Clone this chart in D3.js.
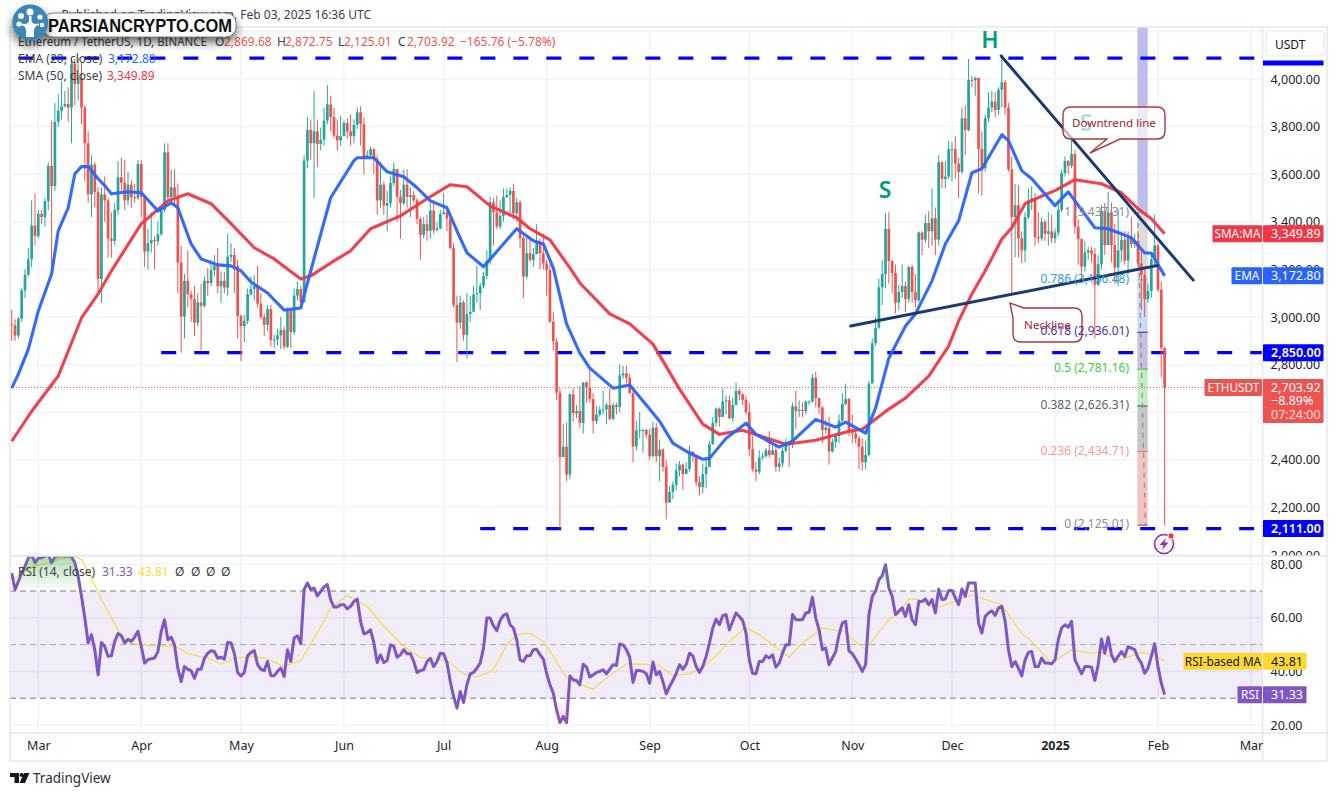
<!DOCTYPE html>
<html>
  <head>
    <meta http-equiv="Content-Type" content="text/html;charset=utf-8">
    <title>ETHUSDT 1D</title>
    <script type="text/javascript" src="https://cdn.jsdelivr.net/npm/d3@7"></script>
    <style type="text/css">
html, body { margin: 0; padding: 0; background: #fff; overflow: hidden; }
svg { display: block; }
text { font-family: "Noto Sans", "DejaVu Sans", sans-serif; font-size: 12px; fill: #131722; }
.grid { stroke: #f0f3fa; stroke-width: 1.5; }
.frame { stroke: #e4e7ee; stroke-width: 1.5; fill: none; }
.axis text { font-size: 12.5px; fill: #1e222d; }
.lvl { stroke: #0000ff; stroke-width: 3.3; stroke-dasharray: 15 18; }
.trend { stroke: #1d3a70; stroke-width: 3; stroke-linecap: round; }
.box text { fill: #fff; font-size: 12.5px; }
    </style>
  </head>
  <body>
    <div id="chart"></div>
    <script type="text/javascript">
// daily candles, Feb 22 2024 .. Feb 3 2025. open of a day = close of the day before
var firstOpen = 2970;
var closes = [
  2965,2922,2993,3112,3178,3242,3384,3340, // feb
  3433,3420,3487,3635,3550,3820,3866,3885,3895,3880,4065,3980,4005,3880,3730,3515,3640,3525,3160,3515,3490,3330,3320,3450,3587,3565,3490,3556,3503,3500,3643,
  3505,3275,3310,3323,3318,3348,3450,3692,3503,3545,3505,3229,3002,3152,3096,3077,2976,3061,3047,3152,3142,3197,3215,3130,3152,3124,3253,3261,3215,3005,
  2962,2984,3096,3117,3130,3056,3000,2967,3033,2903,2905,2923,2946,2875,3030,2937,3090,3117,3063,3657,3786,3730,3780,3727,3745,3825,3893,3840,3762,3742,3760,
  3815,3780,3760,3808,3860,3811,3671,3680,3705,3665,3490,3556,3468,3478,3563,3622,3505,3478,3556,3505,3512,3490,3412,3345,3390,3362,3447,3365,3372,3432,
  3440,3414,3290,3051,2976,3061,2925,3012,3022,3095,3100,3130,3173,3236,3482,3440,3380,3425,3503,3513,3530,3435,3482,3332,3170,3268,3240,3264,3316,3268,3225,
  3197,2980,2897,2682,2412,2455,2338,2675,2595,2605,2555,2725,2703,2655,2563,2590,2610,2612,2630,2572,2630,2622,2755,2763,2745,2680,2456,2523,2525,2525,2505,
  2415,2535,2415,2443,2370,2220,2265,2295,2355,2380,2340,2362,2435,2417,2306,2285,2340,2370,2465,2555,2615,2580,2645,2650,2575,2630,2690,2675,2652,2600,
  2445,2360,2350,2410,2415,2440,2420,2440,2370,2385,2438,2475,2465,2625,2605,2610,2605,2645,2645,2745,2660,2620,2525,2535,2435,2475,2500,2565,2635,2655,2515,
  2510,2490,2455,2390,2420,2720,2890,2955,3125,3180,3370,3235,3185,3060,3105,3130,3075,3210,3105,3070,3355,3325,3395,3360,3415,3325,3650,3580,3590,3705,
  3705,3645,3610,3835,3785,3996,3995,4005,3706,3625,3835,3880,3905,3870,3955,3986,3880,3620,3420,3470,3330,3280,3420,3490,3500,3335,3330,3400,3350,3360,3330,
  3355,3450,3605,3655,3635,3685,3379,3327,3212,3271,3280,3265,3135,3222,3446,3302,3440,3302,3208,3280,3325,3237,3333,3306,3320,3225,3177,3075,3110,3243,3300,
  3115,2870,2703.92
];
var highs = [
  3030,2990,3000,3120,3200,3290,3490,3520,
  3450,3450,3500,3650,3825,3900,3935,3990,3950,3965,4090,4085,4090,4070,3890,3780,3680,3650,3545,3545,3590,3500,3440,3480,3655,3670,3660,3610,3575,3560,3660,
  3660,3510,3370,3440,3340,3400,3460,3730,3730,3620,3620,3560,3299,3180,3280,3110,3130,3100,3140,3170,3205,3240,3260,3290,3190,3190,3350,3310,3290,3240,
  3010,3010,3120,3170,3175,3215,3100,3015,3050,3050,2925,2950,3000,2960,3040,3030,3120,3150,3130,3680,3840,3830,3950,3830,3795,3880,3975,3930,3880,3830,3845,
  3825,3835,3850,3830,3880,3885,3840,3700,3715,3710,3680,3650,3570,3530,3590,3650,3620,3535,3620,3620,3545,3530,3500,3420,3420,3430,3480,3490,3400,3450,
  3520,3465,3400,3310,3090,3090,3070,3100,3090,3130,3215,3145,3190,3280,3505,3500,3510,3490,3540,3540,3545,3560,3500,3490,3340,3335,3330,3290,3390,3330,3350,
  3240,3220,3020,2910,2700,2550,2555,2680,2700,2630,2710,2725,2730,2780,2680,2625,2625,2690,2640,2700,2640,2640,2800,2795,2795,2760,2705,2565,2600,2530,2530,
  2530,2560,2555,2485,2450,2400,2290,2310,2385,2395,2385,2390,2460,2430,2420,2330,2385,2410,2480,2580,2620,2620,2700,2670,2670,2660,2725,2700,2680,2670,
  2640,2500,2390,2440,2430,2450,2520,2460,2460,2410,2450,2490,2480,2640,2690,2650,2640,2650,2650,2760,2770,2650,2625,2570,2580,2490,2510,2590,2680,2720,2660,
  2590,2520,2500,2490,2480,2730,2910,3000,3160,3240,3436,3440,3240,3220,3135,3220,3150,3215,3220,3180,3360,3360,3430,3445,3540,3460,3680,3655,3655,3740,
  3735,3760,3670,3880,3890,4085,4015,4010,4005,3780,3850,3945,3950,3945,3965,4100,3995,3900,3675,3560,3555,3360,3440,3540,3550,3520,3440,3420,3410,3440,3430,
  3370,3490,3620,3675,3660,3745,3700,3410,3330,3320,3295,3295,3290,3260,3470,3480,3525,3480,3390,3455,3360,3360,3360,3420,3350,3360,3280,3200,3140,3260,3430,
  3310,3150,2872.75
];
var lows = [
  2900,2900,2910,2980,3080,3170,3210,3300,
  3330,3390,3380,3450,3200,3530,3800,3830,3880,3820,3730,3890,3910,3810,3570,3480,3420,3460,3100,3060,3400,3250,3250,3300,3430,3530,3450,3470,3460,3480,3490,
  3420,3210,3200,3270,3200,3300,3340,3440,3480,3480,3470,3100,2850,2910,3040,2980,2920,2960,2860,3040,3090,3130,3170,3100,3060,3100,3090,3230,3100,2910,
  2815,2895,2970,3090,3070,3040,2990,2920,2940,2875,2870,2880,2865,2865,2870,2870,2925,3070,3040,3060,3625,3660,3500,3630,3700,3720,3810,3780,3750,3700,3720,
  3780,3750,3720,3730,3790,3720,3600,3670,3670,3600,3430,3460,3430,3360,3460,3550,3400,3330,3470,3460,3420,3480,3390,3240,3330,3320,3330,3350,3360,3370,
  3430,3360,3285,3040,2810,2950,2900,2825,2980,3030,3060,3030,3120,3160,3220,3300,3370,3370,3400,3500,3420,3410,3400,3290,3080,3160,3230,3210,3270,3200,3200,
  3090,2975,2860,2650,2111,2410,2310,2320,2560,2575,2535,2510,2640,2640,2510,2550,2580,2590,2550,2565,2565,2590,2600,2740,2720,2680,2390,2440,2490,2430,2490,
  2400,2410,2390,2310,2350,2150,2220,2235,2270,2330,2275,2345,2350,2390,2290,2250,2260,2280,2370,2465,2540,2540,2580,2590,2570,2560,2630,2650,2630,2590,
  2415,2350,2310,2340,2400,2410,2410,2420,2350,2350,2370,2430,2370,2450,2530,2580,2580,2590,2630,2640,2620,2590,2470,2510,2380,2430,2450,2470,2560,2630,2500,
  2470,2470,2360,2355,2360,2415,2800,2880,2950,3050,3120,3140,3100,3015,3030,3080,3020,3060,3060,3040,3060,3260,3310,3290,3300,3260,3300,3540,3540,3580,
  3570,3580,3500,3600,3680,3780,3965,3930,3520,3510,3610,3820,3860,3840,3850,3880,3850,3610,3100,3250,3250,3225,3230,3410,3450,3300,3310,3320,3320,3300,3310,
  3310,3340,3440,3590,3600,3625,3350,3220,3160,3190,3240,3230,2910,3130,3200,3260,3310,3230,3140,3130,3230,3220,3180,3290,3290,3210,3030,3000,3060,3080,3210,
  3105,2747,2125.01
];

// moving averages, sampled: days since Mar 1 2024 and value
var emaDays = [-8,-6,-3,0,4,6,9,11,13,15,18,20,22,27,31,36,40,42,46,49,54,58,61,64,69,74,79,82,88,95,96,101,105,110,114,118,123,126,129,134,139,144,149,152,155,159,163,166,173,178,184,187,191,195,200,202,207,213,216,223,227,234,240,243,249,252,256,261,264,269,273,277,281,284,290,292,296,299,306,310,318,322,329,333,335,339];
var emaValues = [2701,2760,2865,3025,3181,3362,3459,3602,3632,3632,3581,3552,3518,3526,3522,3446,3480,3459,3307,3244,3219,3215,3194,3147,3101,3029,3038,3194,3501,3657,3669,3669,3610,3589,3543,3488,3459,3362,3270,3211,3291,3371,3320,3307,3206,2971,2848,2785,2701,2714,2613,2562,2470,2436,2402,2406,2490,2554,2507,2453,2478,2570,2537,2558,2512,2617,2827,2962,3013,3152,3307,3404,3606,3623,3766,3741,3615,3581,3468,3526,3375,3371,3333,3269,3269,3172.8];
var smaDays = [-8,-2,6,13,18,22,31,39,45,52,58,65,71,77,79,82,89,94,100,109,117,124,129,136,144,148,154,160,163,172,178,185,193,200,205,212,225,234,244,248,256,261,268,274,277,281,285,290,293,297,303,306,312,320,326,331,335,339];
var smaValues = [2478,2604,2752,2996,3097,3194,3392,3488,3518,3476,3392,3291,3244,3181,3160,3173,3236,3278,3371,3425,3497,3556,3547,3467,3417,3371,3324,3206,3143,3013,2971,2886,2697,2550,2507,2524,2465,2482,2520,2528,2613,2659,2752,2878,2983,3097,3194,3328,3375,3476,3514,3531,3577,3560,3522,3455,3413,3349.89];

// rsi per day, same days as the candles
var rsiValues = [
  76.7,70.5,73.6,76.7,79.2,82.3,83.6,80.5,
  82.3,82.3,83,83.6,80.5,82.7,83,83.2,83,83.2,82.7,80.5,75.5,68,59.9,50.6,53.7,48.1,38.7,50.8,49.3,45.6,45.8,51.2,54.1,53.3,50.6,52,51.2,52.8,55,
  49.3,43.1,44.4,44.7,45,47.4,54.9,59.3,51.8,52.8,49.9,41.2,36.2,41.8,40.8,40.3,37.5,40.8,40.8,44.9,46.8,47.7,47.4,44.9,45.3,44.6,50.8,50.6,46.8,39.6,
  38.3,39.6,45.8,47.1,47.8,42.5,40.8,40.3,43.7,38.4,38.4,40,41.2,38.1,48.1,43.7,52.5,53.3,50.3,70.5,73,70.5,71.1,68.2,69.9,71.5,72.4,66.7,64,64,64.9,
  64.9,63.3,64.3,66.1,67,58.7,54,54.5,55.5,50.6,43.3,46.2,43.3,44.1,49.9,49.3,45.3,46.2,48.1,46.6,46.6,43.7,39.6,40.3,40.6,43.7,44.9,41.8,43.7,46.8,
  46.6,43.3,36.2,30.6,26.3,32.5,28.4,35,39.1,39.6,41.2,43.1,48.7,59.9,59.9,57,55.2,59,60.9,61.5,57.4,56.2,51.8,44.3,43.7,45.8,45.8,48.1,48.3,46.2,44.6,
  39.3,35,31.9,25.6,20.9,23.2,20.9,38.3,36.9,36.6,35,42.7,41.6,37.9,38.7,39.6,40,40.6,39.1,40.8,42.5,42.2,50.2,49.9,48.1,45.3,35.9,40.3,40.3,40,39.1,
  35.6,43.5,38.7,40,36.2,31.6,34.4,36.6,39.3,42.5,40.8,42.5,46.8,45.8,41.8,39.6,41.8,45.6,50.6,56.2,59.5,57.4,60.8,61.2,55.5,58.7,61.8,60.5,59,54.3,
  44.3,39.3,39.1,43.7,43.7,45.8,45,46.2,41.6,43.1,46.8,49.9,49.9,61.2,59.3,59.3,59.3,61.8,62.1,67.7,59.9,55.5,48.1,48.7,42.5,45,47.4,53.7,58,58.7,47.7,
  46.6,44.6,42.5,40,42.5,61.1,68,69.9,74.2,75.7,79.8,71.1,68,61.2,62.4,63.7,60.5,64.9,59.3,57.4,66.1,66.1,67,64.9,66.8,61.8,70.7,66.8,67,70.2,
  70.2,67.4,64.9,70.7,68,73,73,73,58,54.3,60.5,61.8,62.6,60.9,63.7,64.3,58.7,48.1,41.8,43.7,41.2,38.3,44.3,47.1,47.4,41.8,41.8,45,43.1,43.1,42.8,
  44.3,51.8,56.2,57.4,56.5,58.7,44.3,41.8,39.1,41.8,41.8,41.6,36.6,42.5,52.1,46.8,52.8,46.2,43.7,45.6,47.4,45.6,49.3,48.7,48.1,45,43.1,39.3,41.2,45.6,50.3,
  41.8,35.6,31.33
];
var rsiMaDays = [-8,-2,3,6,11,13,16,19,24,27,32,35,41,45,51,55,59,65,69,74,79,84,88,93,99,104,110,115,123,128,132,135,137,141,144,148,152,155,159,162,167,171,177,182,187,191,196,201,204,209,213,217,226,230,236,243,244,249,254,256,259,262,265,270,276,281,285,290,296,298,305,311,317,320,325,332,336,339];
var rsiMaValues = [74.2,79.2,80.5,81.7,83,81.7,74.9,66.8,55.5,50.6,49.9,49.3,49.6,46.6,45,42.7,45,45.6,44.6,41.8,44.1,54.3,63.6,68.4,64.3,56.8,49.3,45.3,44.1,39.1,37.9,39.4,40.8,49.9,53.7,54.3,51.2,45.6,37.5,35.6,33.4,37.5,42.7,42.7,42.2,38.4,39.1,42.5,45.8,52.4,56.2,53.7,45.3,50.6,56.2,54.7,53.1,48.1,56.2,59.3,61.8,67.1,66.8,63.6,66.1,68.6,66.8,64.9,54,52.4,43.1,48.1,46.8,47.1,44.1,47.1,46,43.81];

// axes
var priceTicks = [4000,3800,3600,3400,3200,3000,2800,2600,2400,2200,2000];
var rsiTicks = [80,60,40,20];
var monthDays = [0,31,61,92,122,153,184,214,245,275,306,337,365];
var monthLabels = ["Mar","Apr","May","Jun","Jul","Aug","Sep","Oct","Nov","Dec","2025","Feb","Mar"];

// drawings
var levelPrices = [4088,2850,2111];
var levelStarts = [-6,37,133];
var fibRatios = ["1","0.786","0.618","0.5","0.382","0.236","0"];
var fibPrices = [3437.31,3156.48,2936.01,2781.16,2626.31,2434.71,2125.01];
var fibLabelColors = ["#8a8d96","#2f9bd9","#512da8","#3fcf3f","#5d606b","#ef9a9a","#8a8d96"];
var fibLineColors = ["#8a8d96","#64b5f6","#4a148c","#4caf50","#434651","#e57373","#5d606b"];
var fibFills = ["#dcdcdc","#c7ddf4","#c9bfe0","#c3ecc3","#c6c6c6","#f3c3c3"];
var downtrendDays = [289.8,347.6], downtrendPrices = [4097,3155];
var necklineDays = [244.5,336.8], necklinePrices = [2962,3216];

if (closes.length != 348 || highs.length != 348 || lows.length != 348 || rsiValues.length != 348)
  throw new Error("lengths " + [closes.length, highs.length, lows.length, rsiValues.length]);

var opens = closes.map(function(c, i) { return i ? closes[i-1] : firstOpen; });
var up = "#26a69a", down = "#ef5350", blue = "#2962ff", red = "#f23645", purple = "#7e57c2", yellow = "#fdd835";
var W = 1338, H = 796;
var leftX = 10, axisX = 1262.5, rightX = 1327, topY = 27, paneY = 556, timeY = 733, bottomY = 761;

var svg = d3.select("#chart").append("svg").attr("width", W).attr("height", H);

var x = d3.scaleLinear().domain([0, 365]).range([38.3, 1251]);
var y = d3.scaleLinear().domain([4000, 2000]).range([79, 555]);
var r = d3.scaleLinear().domain([80, 20]).range([564.2, 725]);
function dayOf(i) { return i - 8; }

var defs = svg.append("defs");
function clip(id, y0, y1) {
  defs.append("clipPath").attr("id", id).append("rect")
    .attr("x", leftX).attr("y", y0).attr("width", axisX - leftX).attr("height", y1 - y0);
}
clip("mainClip", topY, paneY);
clip("rsiClip", paneY, timeY);
clip("obClip", paneY, r(70));
clip("osClip", r(30), timeY);
var g1 = defs.append("linearGradient").attr("id", "obGrad").attr("gradientUnits", "userSpaceOnUse")
  .attr("x1", 0).attr("x2", 0).attr("y1", paneY).attr("y2", r(70));
g1.append("stop").attr("offset", "0").attr("stop-color", "#4caf50").attr("stop-opacity", 0.45);
g1.append("stop").attr("offset", "1").attr("stop-color", "#4caf50").attr("stop-opacity", 0);
var g2 = defs.append("linearGradient").attr("id", "osGrad").attr("gradientUnits", "userSpaceOnUse")
  .attr("x1", 0).attr("x2", 0).attr("y1", timeY).attr("y2", r(30));
g2.append("stop").attr("offset", "0").attr("stop-color", "#ff5252").attr("stop-opacity", 0.35);
g2.append("stop").attr("offset", "1").attr("stop-color", "#ff5252").attr("stop-opacity", 0);

// grid
var grid = svg.append("g");
grid.selectAll(".vg").data(monthDays).enter().append("line").attr("class", "grid")
  .attr("x1", function(d) { return x(d); }).attr("x2", function(d) { return x(d); })
  .attr("y1", topY).attr("y2", timeY);
grid.selectAll(".pg").data(priceTicks.concat([4200])).enter().append("line").attr("class", "grid")
  .attr("x1", leftX).attr("x2", axisX)
  .attr("y1", function(d) { return y(d); }).attr("y2", function(d) { return y(d); });
grid.selectAll(".rg").data(rsiTicks).enter().append("line").attr("class", "grid")
  .attr("x1", leftX).attr("x2", axisX)
  .attr("y1", function(d) { return r(d); }).attr("y2", function(d) { return r(d); });

// main pane
var main = svg.append("g").attr("clip-path", "url(#mainClip)");

// fib block sits behind the candles
var fibX0 = x(330.8), fibX1 = x(333.9);
main.append("rect").attr("x", fibX0).attr("width", fibX1 - fibX0).attr("y", topY)
  .attr("height", y(fibPrices[0]) - topY).attr("fill", "#bfbdec");
main.selectAll(".fb").data(fibFills).enter().append("rect")
  .attr("x", fibX0).attr("width", fibX1 - fibX0)
  .attr("y", function(d, i) { return y(fibPrices[i]); })
  .attr("height", function(d, i) { return y(fibPrices[i+1]) - y(fibPrices[i]); })
  .attr("fill", function(d) { return d; });
main.selectAll(".fl").data(fibPrices).enter().append("line")
  .attr("x1", fibX0).attr("x2", fibX1)
  .attr("y1", function(d) { return y(d); }).attr("y2", function(d) { return y(d); })
  .attr("stroke", function(d, i) { return fibLineColors[i]; }).attr("stroke-width", 1);
main.append("line").attr("x1", x(330.9)).attr("x2", x(333.2))
  .attr("y1", y(fibPrices[0])).attr("y2", y(fibPrices[6]))
  .attr("stroke", "#8a8d96").attr("stroke-width", 1.2).attr("stroke-dasharray", "5 5");

// horizontal levels
main.selectAll(".lvl").data(levelPrices).enter().append("line").attr("class", "lvl")
  .attr("x1", function(d, i) { return x(levelStarts[i]); }).attr("x2", axisX)
  .attr("y1", function(d) { return y(d); }).attr("y2", function(d) { return y(d); });

// last price line
main.append("line").attr("x1", leftX).attr("x2", axisX)
  .attr("y1", y(2703.92)).attr("y2", y(2703.92))
  .attr("stroke", down).attr("stroke-width", 1).attr("stroke-dasharray", "1 2");

// candles
var candles = main.selectAll(".c").data(closes).enter().append("g");
candles.append("line")
  .attr("x1", function(d, i) { return x(dayOf(i)); }).attr("x2", function(d, i) { return x(dayOf(i)); })
  .attr("y1", function(d, i) { return y(highs[i]); }).attr("y2", function(d, i) { return y(lows[i]); })
  .attr("stroke", function(d, i) { return d >= opens[i] ? up : down; }).attr("stroke-width", 1);
candles.append("rect")
  .attr("x", function(d, i) { return x(dayOf(i)) - 1.35; }).attr("width", 2.7)
  .attr("y", function(d, i) { return y(Math.max(d, opens[i])); })
  .attr("height", function(d, i) { return Math.max(1, Math.abs(y(d) - y(opens[i]))); })
  .attr("fill", function(d, i) { return d >= opens[i] ? up : down; });

// moving averages
function sampled(days, values, scale) {
  return d3.line()
    .x(function(d, i) { return x(days[i]); })
    .y(function(d) { return scale(d); })(values);
}
main.append("path").attr("d", sampled(smaDays, smaValues, y)).attr("fill", "none").attr("stroke-linejoin", "round")
  .attr("stroke", red).attr("stroke-width", 3.1).attr("stroke-opacity", 0.95);
main.append("path").attr("d", sampled(emaDays, emaValues, y)).attr("fill", "none").attr("stroke-linejoin", "round")
  .attr("stroke", blue).attr("stroke-width", 3.1).attr("stroke-opacity", 0.95);

// trend lines
var tl = d3.line().x(function(d) { return x(d[0]); }).y(function(d) { return y(d[1]); });
main.append("path").attr("class", "trend").attr("d", tl(d3.zip(downtrendDays, downtrendPrices)));
main.append("path").attr("class", "trend").attr("d", tl(d3.zip(necklineDays, necklinePrices)));

// pattern letters
function letter(t, lx, ly) {
  svg.append("text").attr("x", lx).attr("y", ly).attr("text-anchor", "middle")
    .style("font-size", "23px").style("font-weight", 600).style("fill", "#089981").text(t);
}
letter("S", 885, 198);
letter("H", 990, 48);
letter("S", 1086, 131);

// callouts: tail is [apex, start, end, side]
function callout(bx, by, bw, bh, tail, label) {
  var d = "M" + (bx + 10) + "," + by + " H" + (bx + bw - 8) + " Q" + (bx + bw) + "," + by + " " + (bx + bw) + "," + (by + 8)
    + " V" + (by + bh - 8) + " Q" + (bx + bw) + "," + (by + bh) + " " + (bx + bw - 8) + "," + (by + bh);
  if (tail[3] == "b") d += " H" + tail[1] + " L" + tail[0][0] + "," + tail[0][1] + " L" + tail[2] + "," + (by + bh);
  d += " H" + (bx + 8) + " Q" + bx + "," + (by + bh) + " " + bx + "," + (by + bh - 8);
  if (tail[3] == "t") d += " V" + tail[1] + " L" + tail[0][0] + "," + tail[0][1] + " L" + tail[2] + "," + by;
  else d += " V" + (by + 8) + " Q" + bx + "," + by + " " + (bx + 8) + "," + by;
  svg.append("path").attr("fill", "rgba(255,255,255,0.68)").attr("stroke", "#a93a3f").attr("stroke-width", 1.4).attr("d", d + " Z");
  svg.append("text").attr("x", bx + bw / 2).attr("y", by + bh / 2 + 4).attr("text-anchor", "middle")
    .style("fill", "#a51c1c").style("font-size", "11.6px").text(label);
}
callout(1063, 107, 102, 32, [[1090, 153], 1120, 1107, "b"], "Downtrend line");
callout(1013, 308, 69, 34, [[1010, 303], 318, 1024, "t"], "Neckline");

// fib labels
svg.selectAll(".fibl").data(fibPrices).enter().append("text")
  .attr("x", 1129).attr("y", function(d) { return y(d) + 3; }).attr("text-anchor", "end")
  .style("fill", function(d, i) { return fibLabelColors[i]; })
  .text(function(d, i) { return fibRatios[i] + " (" + d3.format(",.2f")(d) + ")"; });

// bolt marker
var bolt = svg.append("g").attr("transform", "translate(1164,544)");
bolt.append("circle").attr("r", 9.5).attr("fill", "#fff").attr("stroke", "#9c27b0").attr("stroke-width", 1.6);
bolt.append("path").attr("d", "M2,-6 L-4.5,1 L-0.5,1 L-2,6 L4.5,-1.5 L0.5,-1.5 Z").attr("fill", "#9c27b0");
bolt.append("circle").attr("cx", 7).attr("cy", -8).attr("r", 3.2).attr("fill", red).attr("stroke", "#fff").attr("stroke-width", 1);

// rsi pane
var rsiPane = svg.append("g").attr("clip-path", "url(#rsiClip)");
rsiPane.append("rect").attr("x", leftX).attr("width", axisX - leftX)
  .attr("y", r(70)).attr("height", r(30) - r(70)).attr("fill", purple).attr("fill-opacity", 0.115);
rsiPane.selectAll(".rl").data([70,50,30]).enter().append("line")
  .attr("x1", leftX).attr("x2", axisX)
  .attr("y1", function(d) { return r(d); }).attr("y2", function(d) { return r(d); })
  .attr("stroke", "#787b86").attr("stroke-opacity", function(d) { return d == 50 ? 0.6 : 1; })
  .attr("stroke-dasharray", "6 4");
var ob = d3.area().x(function(d, i) { return x(dayOf(i)); }).y0(r(70)).y1(function(d) { return r(d); });
var os = d3.area().x(function(d, i) { return x(dayOf(i)); }).y0(r(30)).y1(function(d) { return r(d); });
svg.append("path").attr("d", ob(rsiValues)).attr("fill", "url(#obGrad)").attr("clip-path", "url(#obClip)");
svg.append("path").attr("d", os(rsiValues)).attr("fill", "url(#osGrad)").attr("clip-path", "url(#osClip)");
rsiPane.append("path").attr("d", sampled(rsiMaDays, rsiMaValues, r)).attr("fill", "none")
  .attr("stroke", yellow).attr("stroke-width", 1.1);
rsiPane.append("path").attr("fill", "none").attr("stroke", purple).attr("stroke-width", 3).attr("stroke-linejoin", "round")
  .attr("d", d3.line().x(function(d, i) { return x(dayOf(i)); }).y(function(d) { return r(d); })(rsiValues));

// frame
svg.append("rect").attr("class", "frame").attr("x", leftX).attr("y", topY).attr("width", rightX - leftX).attr("height", bottomY - topY);
svg.append("line").attr("class", "frame").attr("x1", axisX).attr("x2", axisX).attr("y1", topY).attr("y2", bottomY);
svg.append("line").attr("class", "frame").attr("x1", leftX).attr("x2", rightX).attr("y1", paneY).attr("y2", paneY);
svg.append("line").attr("class", "frame").attr("x1", leftX).attr("x2", rightX).attr("y1", timeY).attr("y2", timeY);

// axes
var priceAxis = svg.append("g").attr("class", "axis").attr("transform", "translate(" + axisX + ",0)")
  .call(d3.axisRight(y).tickValues(priceTicks).tickFormat(d3.format(",.2f")).tickSize(0).tickPadding(8));
priceAxis.select(".domain").remove();
var rsiAxis = svg.append("g").attr("class", "axis").attr("transform", "translate(" + axisX + ",0)")
  .call(d3.axisRight(r).tickValues(rsiTicks).tickFormat(d3.format(".2f")).tickSize(0).tickPadding(8));
rsiAxis.select(".domain").remove();
var timeAxis = svg.append("g").attr("class", "axis").attr("transform", "translate(0," + timeY + ")")
  .call(d3.axisBottom(x).tickValues(monthDays).tickFormat(function(d, i) { return monthLabels[i]; }).tickSize(0).tickPadding(8));
timeAxis.select(".domain").remove();
timeAxis.selectAll("text").filter(function(d, i) { return monthLabels[i] == "2025"; }).style("font-weight", 700);

// the 2,000.00 tick runs into the rsi pane, cut it there like the terminal does
svg.append("rect").attr("x", axisX + 1).attr("y", paneY).attr("width", rightX - axisX - 2).attr("height", 4).attr("fill", "#fff");
svg.append("line").attr("class", "frame").attr("x1", axisX).attr("x2", rightX).attr("y1", paneY).attr("y2", paneY);

// price boxes on the scale
var tagWidths = { "SMA:MA": 50, "EMA": 31, "RSI-based MA": 79, "RSI": 25 };
function tag(name, value, cy, color, txt) {
  var h = 17, b = svg.append("g").attr("class", "box");
  if (name) {
    var w = tagWidths[name];
    b.append("rect").attr("x", axisX - w).attr("y", cy - h / 2).attr("width", w - 0.5).attr("height", h).attr("rx", 1).attr("fill", color);
    b.append("text").attr("x", axisX - w / 2).attr("y", cy + 4.5).attr("text-anchor", "middle").style("fill", txt).style("font-size", "11.8px").text(name);
  }
  var vw = value.length > 5 ? 60.5 : 43.5;
  b.append("rect").attr("x", axisX + 0.5).attr("y", cy - h / 2).attr("width", vw).attr("height", h).attr("rx", 1).attr("fill", color);
  b.append("text").attr("x", axisX + 8.5).attr("y", cy + 4.5).style("fill", txt).text(value);
  return b;
}
tag("SMA:MA", "3,349.89", y(3349.89), red, "#fff");
tag("EMA", "3,172.80", y(3172.8), blue, "#fff");
tag(null, "2,850.00", y(2850), "#0000ff", "#fff").selectAll("text").style("font-weight", 600);
tag(null, "2,111.00", y(2111), "#0000ff", "#fff").selectAll("text").style("font-weight", 600);
tag("RSI-based MA", "43.81", r(43.81), yellow, "#131722");
tag("RSI", "31.33", r(31.33), purple, "#fff");

// last price box is three rows high
var lastY = y(2703.92);
var lastBox = svg.append("g").attr("class", "box");
lastBox.append("rect").attr("x", axisX - 58).attr("y", lastY - 8.5).attr("width", 57.5).attr("height", 17).attr("rx", 1).attr("fill", down);
lastBox.append("text").attr("x", axisX - 29).attr("y", lastY + 4.5).attr("text-anchor", "middle").style("font-size", "11.8px").text("ETHUSDT");
lastBox.append("rect").attr("x", axisX + 0.5).attr("y", lastY - 8.5).attr("width", 60.5).attr("height", 44).attr("rx", 1).attr("fill", down);
lastBox.append("text").attr("x", axisX + 8.5).attr("y", lastY + 4.5).text("2,703.92");
lastBox.append("text").attr("x", axisX + 8.5).attr("y", lastY + 18).text("\u22128.89%");
lastBox.append("text").attr("x", axisX + 8.5).attr("y", lastY + 32).style("fill-opacity", 0.8).text("07:24:00");

// usdt button, and the tail of the 4,088 box under it
svg.append("rect").attr("x", axisX + 0.5).attr("y", 60.5).attr("width", 60.5).attr("height", 5).attr("fill", "#0000ff");
svg.append("rect").attr("x", 1266).attr("y", 31).attr("width", 58).attr("height", 25).attr("rx", 4)
  .attr("fill", "#fff").attr("stroke", "#e6e8ee").attr("stroke-width", 1.2);
svg.append("text").attr("x", 1275).attr("y", 49).text("USDT");

// legends
var gray = "#3b3e48";
function row(parts, ty) {
  var t = svg.append("text").attr("y", ty);
  parts.forEach(function(p) {
    t.append("tspan").attr("x", p[1]).style("fill", p[2]).text(p[0]);
  });
}
svg.append("text").attr("x", 371).attr("y", 19).attr("text-anchor", "end").style("fill", "#3b3e48")
  .text("Published on TradingView.com, Feb 03, 2025 16:36 UTC");
svg.append("text").attr("x", 18).attr("y", 46).attr("textLength", 189).attr("lengthAdjust", "spacingAndGlyphs")
  .style("fill", gray).text("Ethereum / TetherUS, 1D, BINANCE");
row([["O", 215, gray], ["2,869.68", 224, down],
     ["H", 277, gray], ["2,872.75", 285, down], ["L", 338, gray], ["2,125.01", 344, down],
     ["C", 398, gray], ["2,703.92", 407, down], ["\u2212165.76 (\u22125.78%)", 460, down]], 46);
row([["EMA (20, close)", 18, gray], ["3,172.80", 108, blue]], 63);
row([["SMA (50, close)", 18, gray], ["3,349.89", 107, red]], 80);
row([["RSI (14, close)", 18, gray], ["31.33", 102, purple], ["43.81", 138, yellow],
     ["\u00d8", 175, gray], ["\u00d8", 191, gray], ["\u00d8", 206, gray], ["\u00d8", 221, gray]], 576);

// watermark logo over the top left corner
defs.append("filter").attr("id", "soft").attr("x", "-20%").attr("y", "-60%").attr("width", "140%").attr("height", "260%")
  .append("feDropShadow").attr("dx", 0).attr("dy", 5).attr("stdDeviation", 5).attr("flood-color", "#000").attr("flood-opacity", 0.6);
var logo = svg.append("g");
logo.append("rect").attr("x", 43).attr("y", 13).attr("width", 193).attr("height", 24).attr("rx", 10)
  .attr("fill", "#fff").attr("stroke", "#666").attr("stroke-width", 0.8).attr("filter", "url(#soft)");
logo.append("text").attr("x", 48).attr("y", 31.5).attr("textLength", 184).attr("lengthAdjust", "spacingAndGlyphs")
  .style("font-family", "'Liberation Sans', sans-serif").style("font-size", "17.5px").style("font-weight", 700).style("fill", "#111")
  .text("PARSIANCRYPTO.COM");
logo.append("circle").attr("cx", 30.3).attr("cy", 22.5).attr("r", 18).attr("fill", "#3a86b7").attr("filter", "url(#soft)");
logo.append("path").attr("fill", "#fff")
  .attr("d", "M26,37 L26,31 Q26,26 21,25 L21,23.5 Q28,25 29,21 L29,16 L31.5,16 L31.5,21 Q32.5,25 39,23.5 L39,25 Q34,26 34,31 L34,37 Z");
logo.selectAll(".blob").data([[30,12,3.5],[21,16,3],[40,17,2.6],[19,24,2.6],[42,25,2.2]]).enter().append("circle")
  .attr("cx", function(d) { return d[0]; }).attr("cy", function(d) { return d[1]; }).attr("r", function(d) { return d[2]; })
  .attr("fill", "#fff");

// tradingview mark
svg.append("path").attr("fill", "#131722").attr("d", "M10,773 h9 v10 h-4.5 v-6 h-4.5 Z M24,773 h5.5 l-4.5,10 h-5.5 Z");
svg.append("circle").attr("cx", 21.5).attr("cy", 775).attr("r", 2).attr("fill", "#131722");
svg.append("text").attr("x", 33).attr("y", 783).style("font-size", "13.5px").style("fill", "#2a2e39").text("TradingView");
    </script>
  </body>
</html>
